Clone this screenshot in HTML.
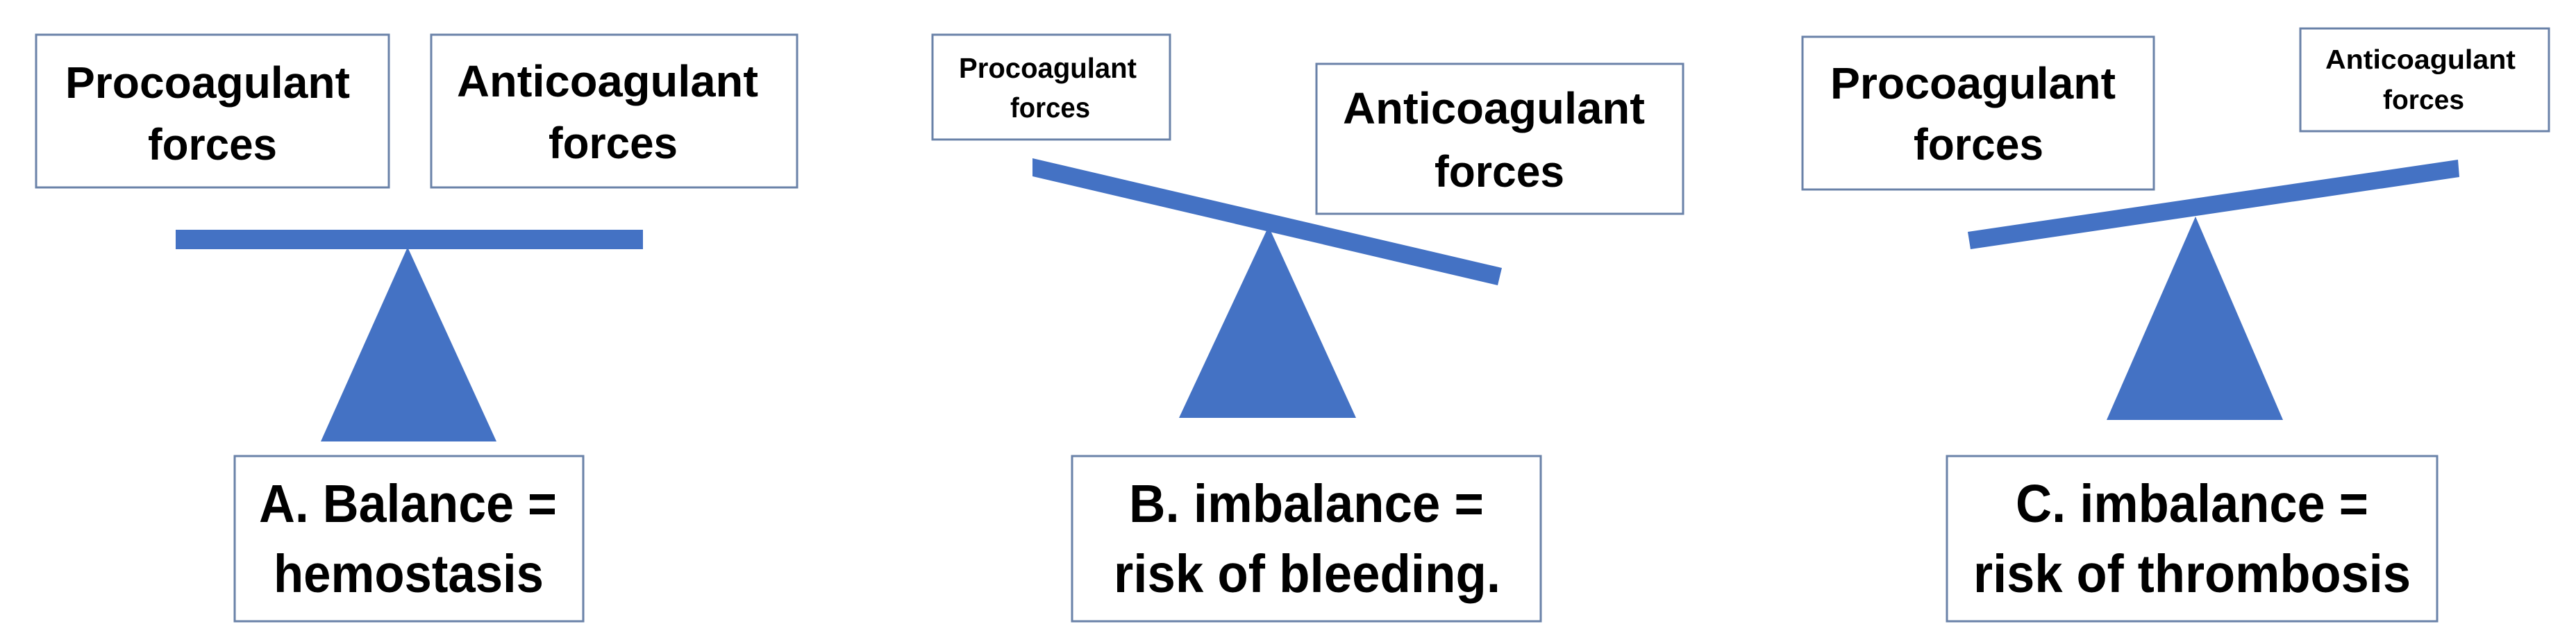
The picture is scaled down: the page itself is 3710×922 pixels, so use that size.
<!DOCTYPE html>
<html><head><meta charset="utf-8"><style>
html,body{margin:0;padding:0;background:#fff;width:3710px;height:922px;overflow:hidden}
svg{display:block}
text{font-family:"Liberation Sans",sans-serif;font-weight:bold;fill:#000}
</style></head><body>
<svg width="3710" height="922" viewBox="0 0 3710 922" xmlns="http://www.w3.org/2000/svg">
<g fill="#fff" stroke="#6a82a8" stroke-width="3">
<rect x="52" y="50" width="508" height="220"/>
<rect x="621" y="50" width="527" height="220"/>
<rect x="338" y="657" width="502" height="238"/>
<rect x="1343" y="50" width="342" height="151"/>
<rect x="1896" y="92" width="528" height="216"/>
<rect x="1544" y="657" width="675" height="238"/>
<rect x="2596" y="53" width="506" height="220"/>
<rect x="3313" y="41" width="358" height="148"/>
<rect x="2804" y="657" width="706" height="238"/>
</g>
<g fill="#4472c4">
<rect x="253" y="331" width="673" height="28"/>
<polygon points="587,356 462,636 715,636"/>
<polygon points="1487,228 2163,386 2157,411 1487,254"/>
<polygon points="1827,326 1698,602 1953,602"/>
<polygon points="2834,334 3540,230 3542,255 2838,359"/>
<polygon points="3162,312 3034,605 3288,605"/>
</g>
<g font-size="64" lengthAdjust="spacingAndGlyphs">
<text x="94" y="141" textLength="410" lengthAdjust="spacingAndGlyphs">Procoagulant</text>
<text x="213" y="230" textLength="186" lengthAdjust="spacingAndGlyphs">forces</text>
<text x="658" y="139" textLength="434" lengthAdjust="spacingAndGlyphs">Anticoagulant</text>
<text x="790" y="228" textLength="186" lengthAdjust="spacingAndGlyphs">forces</text>
<text x="1934" y="178" textLength="435" lengthAdjust="spacingAndGlyphs">Anticoagulant</text>
<text x="2066" y="269" textLength="187" lengthAdjust="spacingAndGlyphs">forces</text>
<text x="2636" y="142" textLength="411" lengthAdjust="spacingAndGlyphs">Procoagulant</text>
<text x="2756" y="230" textLength="187" lengthAdjust="spacingAndGlyphs">forces</text>
</g>
<text x="1381" y="112" font-size="41" textLength="256" lengthAdjust="spacingAndGlyphs">Procoagulant</text>
<text x="1455" y="169" font-size="41" textLength="115" lengthAdjust="spacingAndGlyphs">forces</text>
<text x="3349" y="99" font-size="39" textLength="274" lengthAdjust="spacingAndGlyphs">Anticoagulant</text>
<text x="3432" y="157" font-size="39" textLength="117" lengthAdjust="spacingAndGlyphs">forces</text>
<g font-size="77">
<text x="373" y="752" textLength="429" lengthAdjust="spacingAndGlyphs">A. Balance =</text>
<text x="394" y="853" textLength="389" lengthAdjust="spacingAndGlyphs">hemostasis</text>
<text x="1626" y="752" textLength="511" lengthAdjust="spacingAndGlyphs">B. imbalance =</text>
<text x="1604" y="853" textLength="557" lengthAdjust="spacingAndGlyphs">risk of bleeding.</text>
<text x="2903" y="752" textLength="508" lengthAdjust="spacingAndGlyphs">C. imbalance =</text>
<text x="2842" y="853" textLength="630" lengthAdjust="spacingAndGlyphs">risk of thrombosis</text>
</g>
</svg>
</body></html>
